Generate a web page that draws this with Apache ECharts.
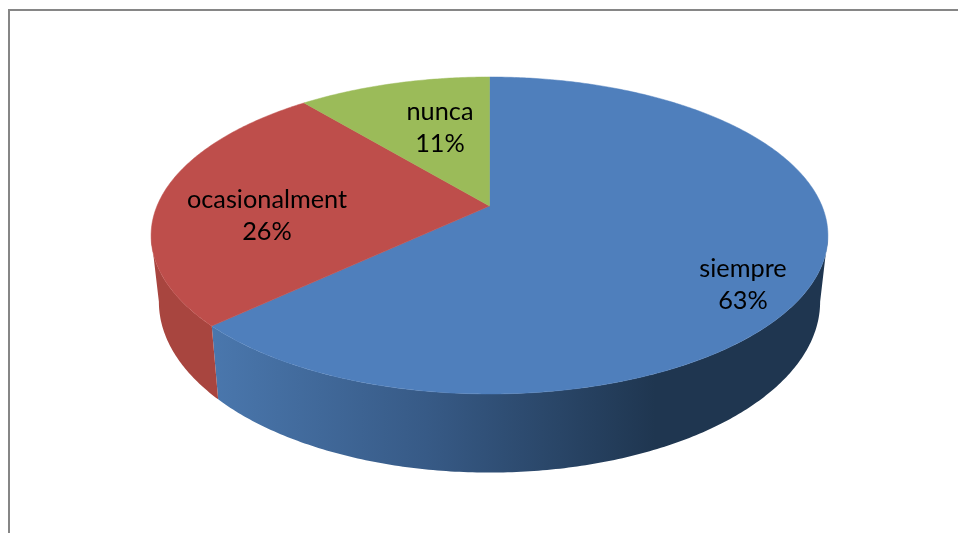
<!DOCTYPE html>
<html>
<head>
<meta charset="utf-8">
<style>
  html, body { margin: 0; padding: 0; background: #fff; }
  #chart { width: 958px; height: 533px; }
</style>
<script src="https://cdn.jsdelivr.net/npm/echarts@6/dist/echarts.min.js"></script>
</head>
<body>
<div id="chart"></div>
<script>
var categories = ['siempre', 'ocasionalment', 'nunca'];
var values = [63, 26, 11];
var topColors = ['#4f7fbc', '#be4e4b', '#9bbb59'];
var labelPositions = [[743, 284.5], [267, 216], [440, 128]];

// perspective tilt of the disc, fitted by eye on the reference
var cx = 489.5, cy = 206, radX = 332.5, radY = 153, tilt = 0.186, depth = 64, taper = 0.023;
var total = values.reduce(function (a, b) { return a + b; }, 0);

// angle in radians clockwise from 12 o'clock, drop goes from 0 (top face) to depth (bottom face)
function project(angle, drop) {
  drop = drop || 0;
  var u = Math.sin(angle), v = -Math.cos(angle);
  var w = 1 - tilt * v;
  var shrink = 1 - taper * drop / depth;
  return [cx + radX * u * shrink / w, cy + (radY * v + drop) / w];
}

function arcPoints(a0, a1, drop) {
  var pts = [], n = Math.max(2, Math.ceil((a1 - a0) * 90));
  for (var i = 0; i <= n; i++) {
    pts.push(project(a0 + (a1 - a0) * i / n, drop));
  }
  return pts;
}

function sideFill(index) {
  if (index === 0) {
    return new echarts.graphic.LinearGradient(0, 0, 1, 0, [
      { offset: 0, color: '#4a77ad' },
      { offset: 0.35, color: '#375a86' },
      { offset: 0.72, color: '#1f3650' },
      { offset: 1, color: '#1f3650' }
    ]);
  }
  return '#a8453f';
}

function renderSlice(params, api) {
  var index = params.dataIndex;
  var before = 0;
  for (var i = 0; i < index; i++) before += values[i];
  var a0 = before / total * Math.PI * 2;
  var a1 = (before + api.value(1)) / total * Math.PI * 2;
  var children = [];

  // rim is only visible between the two points where the outline turns back
  var turn = Math.acos(-tilt);
  var s0 = Math.max(a0, turn), s1 = Math.min(a1, Math.PI * 2 - turn);
  if (s1 > s0) {
    var upper = arcPoints(s0, s1, 0), lower = arcPoints(s0, s1, depth).reverse();
    children.push({
      type: 'polygon',
      shape: { points: upper.concat(lower) },
      style: { fill: sideFill(index), stroke: null }
    });
  }

  var face = [[cx, cy]].concat(arcPoints(a0, a1, 0));
  children.push({
    type: 'polygon',
    shape: { points: face },
    style: { fill: topColors[index], stroke: topColors[index], lineWidth: 0.5 }
  });

  return { type: 'group', children: children };
}

function renderLabel(params, api) {
  var index = params.dataIndex;
  return {
    type: 'text',
    z2: 10,
    style: {
      x: labelPositions[index][0],
      y: labelPositions[index][1],
      text: categories[index] + '\n' + api.value(1) + '%',
      fill: '#000',
      font: '25.3px Lato, sans-serif',
      lineHeight: 32,
      align: 'center',
      verticalAlign: 'middle'
    }
  };
}

var chart = echarts.init(document.getElementById('chart'), null, { renderer: 'canvas' });
var seriesData = values.map(function (v, i) { return [i, v]; });
chart.setOption({
  animation: false,
  backgroundColor: '#fff',
  graphic: [{
    type: 'polyline',
    silent: true,
    shape: { points: [[9, 533], [9, 10], [958, 10]] },
    style: { stroke: '#868686', lineWidth: 2, fill: null }
  }],
  series: [
    { type: 'custom', coordinateSystem: 'none', renderItem: renderSlice, data: seriesData, z: 2 },
    { type: 'custom', coordinateSystem: 'none', renderItem: renderLabel, data: seriesData, z: 3 }
  ]
});
</script>
</body>
</html>
